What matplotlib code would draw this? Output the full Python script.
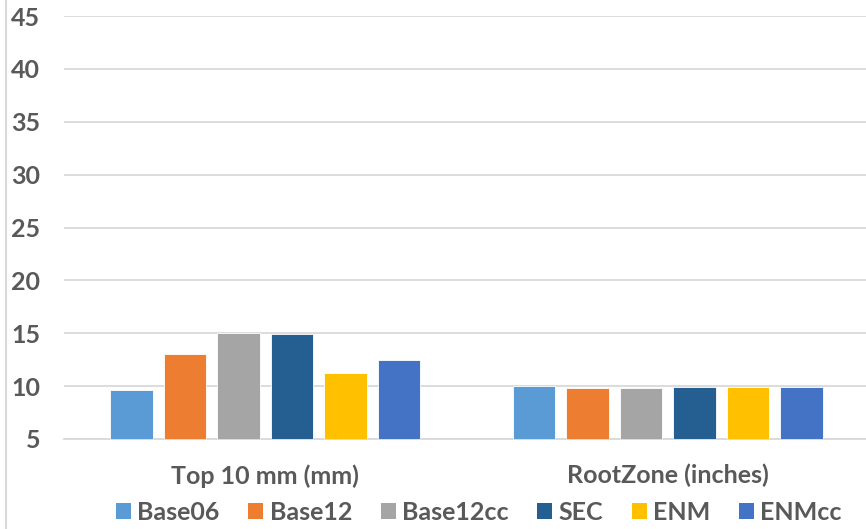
import numpy as np
import matplotlib.pyplot as plt
from matplotlib.patches import Patch
from matplotlib.lines import Line2D

categories = ['Top 10 mm (mm)', 'RootZone (inches)']
series = ['Base06', 'Base12', 'Base12cc', 'SEC', 'ENM', 'ENMcc']
values = {
    'Base06':   [9.6, 10.0],
    'Base12':   [13.0, 9.8],
    'Base12cc': [15.0, 9.8],
    'SEC':      [14.9, 9.9],
    'ENM':      [11.2, 9.9],
    'ENMcc':    [12.5, 9.9],
}
colors = ['#5B9BD5', '#ED7D31', '#A5A5A5', '#255E91', '#FFC000', '#4472C4']
yticks = [5, 10, 15, 20, 25, 30, 35, 40, 45]

textColor = '#595959'
gridColor = '#D9D9D9'
fontSize = 18
plt.rcParams['font.family'] = ['Lato', 'DejaVu Sans']

fig = plt.figure(figsize=(8.66, 5.29), dpi=100)
ax = fig.add_axes([64/866, 90/529, 805/866, 423/529])

x = np.arange(len(categories))
step = 0.133
barWidth = 0.106
for i, name in enumerate(series):
    offset = (i - (len(series)-1)/2) * step
    ax.bar(x + offset, values[name], width=barWidth, bottom=0, color=colors[i],
           edgecolor='white', linewidth=0.6, zorder=3)

ax.set_ylim(5, 45)
ax.set_xlim(-0.5, 1.5)
ax.set_yticks(yticks)
ax.set_yticklabels([str(t) for t in yticks], fontsize=fontSize, fontweight='bold', color=textColor)
ax.set_xticks(x)
ax.set_xticklabels(categories, fontsize=fontSize, fontweight='bold', color=textColor)
ax.tick_params(axis='y', length=0, pad=17)
ax.tick_params(axis='x', length=0, pad=18)
ax.grid(axis='y', color=gridColor, linewidth=1.3, zorder=0)
for side in ['top', 'right', 'left']:
    ax.spines[side].set_visible(False)
ax.spines['bottom'].set_color(gridColor)
ax.spines['bottom'].set_linewidth(1.3)

# chart border on the left
fig.add_artist(Line2D([6/866, 6/866], [0, 1], color=gridColor, linewidth=1.5))

handles = [Patch(facecolor=c, edgecolor='none') for c in colors]
fig.legend(handles, series, loc='center', bbox_to_anchor=(479/866, 17/529), ncol=6,
           frameon=False, handlelength=0.6, handleheight=0.6, handletextpad=0.25,
           columnspacing=1.15, borderpad=0, borderaxespad=0,
           prop={'size': fontSize, 'weight': 'bold'}, labelcolor=textColor)

fig.savefig('out.png', dpi=100)
